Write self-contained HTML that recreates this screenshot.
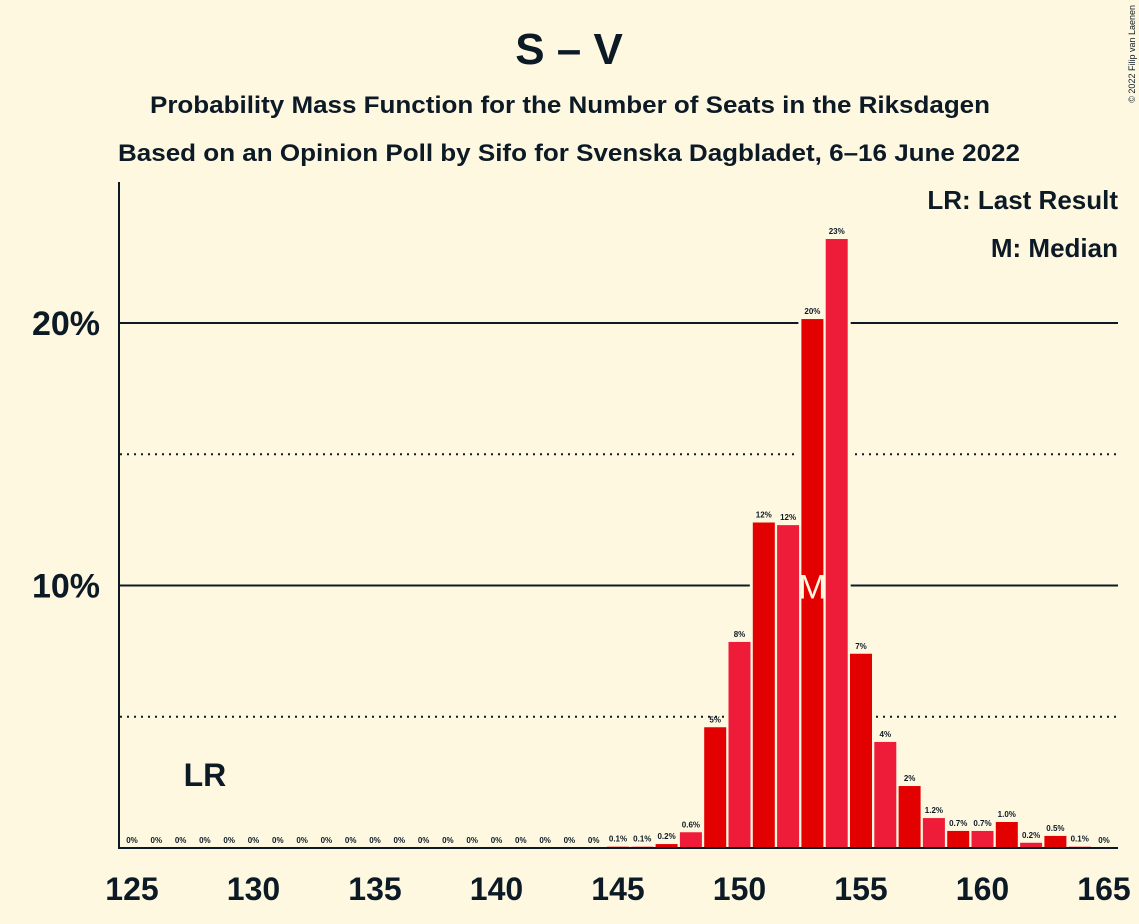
<!DOCTYPE html>
<html><head><meta charset="utf-8"><style>
body{margin:0;background:#fff8e1;}
svg{display:block;font-family:"Liberation Sans",sans-serif;}
</style></head><body>
<svg id="c" width="1139" height="924" viewBox="0 0 1139 924">
<rect width="1139" height="924" fill="#fff8e1"/>
<text x="569" y="64" text-anchor="middle" font-size="44" font-weight="bold" fill="#0c1a26">S – V</text>
<text x="150" y="113" textLength="840" lengthAdjust="spacingAndGlyphs" font-size="24" font-weight="bold" fill="#0c1a26">Probability Mass Function for the Number of Seats in the Riksdagen</text>
<text x="118" y="161" textLength="902" lengthAdjust="spacingAndGlyphs" font-size="24" font-weight="bold" fill="#0c1a26">Based on an Opinion Poll by Sifo for Svenska Dagbladet, 6–16 June 2022</text>
<text x="1118" y="209" text-anchor="end" font-size="26" font-weight="bold" fill="#0c1a26">LR: Last Result</text>
<text x="1118" y="257" text-anchor="end" font-size="26" font-weight="bold" fill="#0c1a26">M: Median</text>
<text transform="translate(1135,5) rotate(-90)" text-anchor="end" font-size="9" fill="#0c1a26">© 2022 Filip van Laenen</text>
<g id="grid"></g><g id="bg"></g><g id="bars"></g><g id="labels"></g>
<line x1="119" y1="182" x2="119" y2="848" stroke="#0c1a26" stroke-width="2"/>
<line x1="118" y1="848" x2="1118" y2="848" stroke="#0c1a26" stroke-width="2"/>
</svg>
<script>
const seats=[125,126,127,128,129,130,131,132,133,134,135,136,137,138,139,140,141,142,143,144,145,146,147,148,149,150,151,152,153,154,155,156,157,158,159,160,161,162,163,164,165];
const probs=[0,0,0,0,0,0,0,0,0,0,0,0,0,0,0,0,0,0,0,0,0.05,0.05,0.15,0.6,4.6,7.85,12.4,12.3,20.15,23.2,7.4,4.04,2.36,1.14,0.65,0.65,0.99,0.2,0.46,0.05,0];
const valueLabels=["0%","0%","0%","0%","0%","0%","0%","0%","0%","0%","0%","0%","0%","0%","0%","0%","0%","0%","0%","0%","0.1%","0.1%","0.2%","0.6%","5%","8%","12%","12%","20%","23%","7%","4%","2%","1.2%","0.7%","0.7%","1.0%","0.2%","0.5%","0.1%","0%"];
const xTicks=[125,130,135,140,145,150,155,160,165];
const yTicks=[5,10,15,20];
const yTickLabels=["","10%","","20%"];
const medianSeat=153;
const lastResultSeat=128;
const NS="http://www.w3.org/2000/svg";
const x=s=>132+(s-125)*24.3;
const y=v=>848-v*26.25;
function mk(t,a,p){const e=document.createElementNS(NS,t);for(const k in a)e.setAttribute(k,a[k]);document.getElementById(p).appendChild(e);return e;}
yTicks.forEach((t,i)=>{
  const solid=t%10===0;
  const l=mk('line',{x1:120,x2:1118,y1:y(t),y2:y(t),stroke:'#0c1a26','stroke-width':2,'stroke-dasharray':solid?'none':'2,5'},'grid');
  
  
  if(yTickLabels[i]){const tx=mk('text',{x:100,y:y(t)+12,'text-anchor':'end','font-size':34,'font-weight':'bold',fill:'#0c1a26'},'grid');tx.textContent=yTickLabels[i];
  
  }
});
xTicks.forEach(t=>{const tx=mk('text',{x:x(t),y:900,'text-anchor':'middle','font-size':32,'font-weight':'bold',fill:'#0c1a26'},'grid');tx.textContent=t;
  
  });
seats.forEach((s,i)=>{
  const v=probs[i];
  if(v>0){
    const b=mk('rect',{x:x(s)-14,y:y(v)-3,width:28,height:848-y(v)+3,fill:'#fff8e1'},'bg');
    
    
    const r=mk('rect',{x:x(s)-11,y:y(v),width:22,height:848-y(v),fill:s%2?'#e30000':'#ef1c39'},'bars');
    
    
  }
  const tx=mk('text',{x:x(s),y:y(v)-5,'text-anchor':'middle','font-size':8,'font-weight':'bold',fill:'#0c1a26'},'labels');
  tx.textContent=valueLabels[i];
  
  
});
const m=mk('text',{x:x(medianSeat),y:y(10)+13,'text-anchor':'middle','font-size':34,fill:'#fff8e1'},'labels');
m.textContent='M';


const lr=mk('text',{x:x(lastResultSeat),y:786,'text-anchor':'middle','font-size':32,'font-weight':'bold',fill:'#0c1a26'},'labels');
lr.textContent='LR';


</script>
</body></html>
